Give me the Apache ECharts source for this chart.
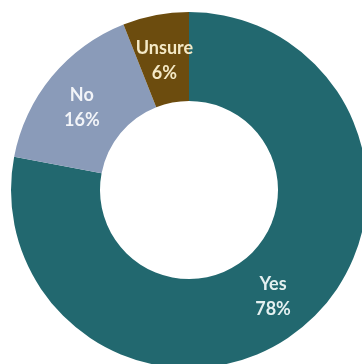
<!DOCTYPE html>
<html><head><meta charset="utf-8">
<script src="https://cdn.jsdelivr.net/npm/echarts@6/dist/echarts.min.js"></script>
<style>html,body{margin:0;padding:0;background:#fff}#c{width:362px;height:364px}</style>
</head><body><div id="c"></div>
<script>
const categories = ["Yes", "No", "Unsure"];
const values = [78, 16, 6];
const colors = ["#22686f", "#8a9bb9", "#6c4c0e"];
const labelColors = ["#e4f0f0", "#f2f4f8", "#f4e9c6"];
const labelOffsets = [[-3, 2], [-2, 5], [1, 5]];

const chart = echarts.init(document.getElementById('c'));
chart.setOption({
  animation: false,
  series: [{
    type: 'pie',
    center: [189, 190],
    radius: [89, 178],
    startAngle: 90,
    clockwise: true,
    avoidLabelOverlap: false,
    label: {
      show: true,
      position: 'inside',
      fontFamily: 'Lato',
      fontWeight: 'bold',
      fontSize: 18,
      lineHeight: 25,
      formatter: p => p.name + '\n' + p.value + '%'
    },
    labelLine: { show: false },
    itemStyle: { borderWidth: 0 },
    emphasis: { disabled: true },
    data: categories.map((c, i) => ({
      name: c, value: values[i],
      itemStyle: { color: colors[i] },
      label: { color: labelColors[i], offset: labelOffsets[i] }
    }))
  }]
});
</script></body></html>
